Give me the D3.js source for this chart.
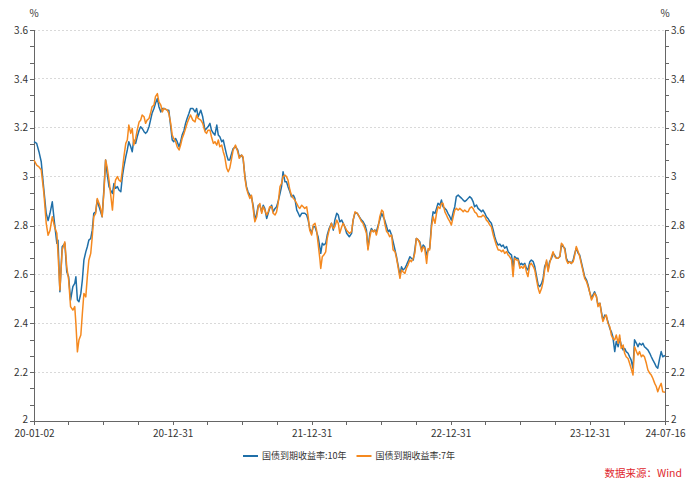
<!DOCTYPE html>
<html>
<head>
<meta charset="utf-8">
<script src="https://cdn.jsdelivr.net/npm/d3@7"></script>
<style>
  body { margin: 0; background: #fff; }
  svg text { font-family: "Noto Sans CJK SC", "Noto Sans", sans-serif; }
  .axis path, .axis line { stroke: #666; shape-rendering: crispEdges; }
  .axis text { fill: #333; font-size: 10px; }
  .grid line { stroke: #d9d9d9; stroke-dasharray: 2,2; shape-rendering: crispEdges; }
</style>
</head>
<body>
<svg id="chart" width="700" height="488"></svg>
<script>
// --- data ---
const dates = [
  "2020-01-02","2020-01-09","2020-01-15","2020-01-21","2020-01-28","2020-02-03","2020-02-08","2020-02-13","2020-02-19","2020-02-25",
  "2020-03-02","2020-03-05","2020-03-10","2020-03-16","2020-03-23","2020-03-28","2020-04-02","2020-04-07","2020-04-13","2020-04-18",
  "2020-04-21","2020-04-25","2020-04-29","2020-05-04","2020-05-08","2020-05-12","2020-05-17","2020-05-21","2020-05-25","2020-05-30",
  "2020-06-03","2020-06-07","2020-06-12","2020-06-16","2020-06-21","2020-06-25","2020-06-29","2020-07-04","2020-07-08","2020-07-12",
  "2020-07-17","2020-07-21","2020-07-26","2020-07-30","2020-08-03","2020-08-08","2020-08-12","2020-08-17","2020-08-21","2020-08-25",
  "2020-08-30","2020-09-03","2020-09-07","2020-09-12","2020-09-16","2020-09-20","2020-09-25","2020-09-29","2020-10-04","2020-10-08",
  "2020-10-12","2020-10-17","2020-10-21","2020-10-25","2020-10-30","2020-11-03","2020-11-07","2020-11-12","2020-11-16","2020-11-21",
  "2020-11-25","2020-11-30","2020-12-04","2020-12-08","2020-12-17","2020-12-21","2020-12-26","2020-12-30",
  "2021-01-03","2021-01-08","2021-01-12","2021-01-17","2021-01-21","2021-01-25","2021-01-30","2021-02-03","2021-02-07","2021-02-12",
  "2021-02-16","2021-02-22","2021-02-28","2021-03-04","2021-03-08","2021-03-15","2021-03-20","2021-03-26","2021-03-30","2021-04-03",
  "2021-04-08","2021-04-12","2021-04-17","2021-04-21","2021-04-26","2021-04-30","2021-05-04","2021-05-09","2021-05-13","2021-05-17",
  "2021-05-22","2021-05-26","2021-05-30","2021-06-04","2021-06-08","2021-06-14","2021-06-20","2021-06-24","2021-06-30","2021-07-04",
  "2021-07-09","2021-07-13","2021-07-17","2021-07-22","2021-07-26","2021-07-31","2021-08-04","2021-08-09","2021-08-13","2021-08-17",
  "2021-08-22","2021-08-26","2021-08-30","2021-09-04","2021-09-08","2021-09-12","2021-09-17","2021-09-21","2021-09-26","2021-09-30",
  "2021-10-04","2021-10-09","2021-10-13","2021-10-17","2021-10-22","2021-10-26","2021-10-30","2021-11-04","2021-11-08","2021-11-13",
  "2021-11-17","2021-11-22","2021-11-26","2021-11-30","2021-12-05","2021-12-09","2021-12-13","2021-12-18","2021-12-22","2021-12-26",
  "2021-12-31",
  "2022-01-04","2022-01-09","2022-01-13","2022-01-17","2022-01-22","2022-01-24","2022-01-28","2022-02-01","2022-02-06","2022-02-10",
  "2022-02-15","2022-02-21","2022-02-26","2022-03-02","2022-03-07","2022-03-11","2022-03-15","2022-03-20","2022-03-24","2022-03-28",
  "2022-04-02","2022-04-09","2022-04-15","2022-04-19","2022-04-24","2022-04-30","2022-05-05","2022-05-11","2022-05-15","2022-05-20",
  "2022-05-24","2022-05-28","2022-06-02","2022-06-06","2022-06-11","2022-06-15","2022-06-19","2022-06-24","2022-06-28","2022-07-03",
  "2022-07-07","2022-07-11","2022-07-16","2022-07-20","2022-07-24","2022-07-29","2022-08-02","2022-08-07","2022-08-11","2022-08-15",
  "2022-08-20","2022-08-24","2022-08-28","2022-09-02","2022-09-06","2022-09-10","2022-09-15","2022-09-19","2022-09-24","2022-09-28",
  "2022-10-02","2022-10-07","2022-10-11","2022-10-16","2022-10-20","2022-10-24","2022-10-29","2022-11-02","2022-11-06","2022-11-11",
  "2022-11-15","2022-11-20","2022-11-24","2022-11-28","2022-12-03","2022-12-07","2022-12-11","2022-12-16","2022-12-20","2022-12-24",
  "2022-12-29",
  "2023-01-02","2023-01-07","2023-01-11","2023-01-15","2023-01-20","2023-01-24","2023-01-29","2023-02-02","2023-02-06","2023-02-11",
  "2023-02-15","2023-02-19","2023-02-24","2023-02-28","2023-03-04","2023-03-09","2023-03-13","2023-03-18","2023-03-22","2023-03-26",
  "2023-03-31","2023-04-04","2023-04-08","2023-04-13","2023-04-17","2023-04-22","2023-04-26","2023-04-30","2023-05-05","2023-05-09",
  "2023-05-14","2023-05-18","2023-05-22","2023-05-27","2023-05-31","2023-06-04","2023-06-09","2023-06-13","2023-06-17","2023-06-22",
  "2023-06-26","2023-07-01","2023-07-05","2023-07-09","2023-07-14","2023-07-18","2023-07-22","2023-07-27","2023-07-31","2023-08-05",
  "2023-08-09","2023-08-13","2023-08-18","2023-08-22","2023-08-27","2023-08-31","2023-09-04","2023-09-09","2023-09-13","2023-09-17",
  "2023-09-22","2023-09-26","2023-09-30","2023-10-05","2023-10-09","2023-10-14","2023-10-18","2023-10-22","2023-10-27","2023-10-31",
  "2023-11-04","2023-11-09","2023-11-13","2023-11-18","2023-11-22","2023-11-26","2023-12-01","2023-12-05","2023-12-09","2023-12-14",
  "2023-12-18","2023-12-23","2023-12-27","2023-12-31",
  "2024-01-05","2024-01-09","2024-01-13","2024-01-18","2024-01-22","2024-01-27","2024-01-31","2024-02-04","2024-02-09","2024-02-13",
  "2024-02-17","2024-02-22","2024-02-26","2024-03-01","2024-03-06","2024-03-10","2024-03-15","2024-03-19","2024-03-23","2024-03-28",
  "2024-04-01","2024-04-05","2024-04-10","2024-04-14","2024-04-18","2024-04-23","2024-04-27","2024-05-02","2024-05-06","2024-05-10",
  "2024-05-15","2024-05-19","2024-05-23","2024-05-28","2024-06-01","2024-06-06","2024-06-10","2024-06-14","2024-06-19","2024-06-23",
  "2024-06-27","2024-07-02","2024-07-06","2024-07-10","2024-07-16"
];

// 国债到期收益率:10年 (%)
const yield10 = [
  3.143,3.136,3.102,3.061,2.945,2.85,2.82,2.85,2.897,2.808,
  2.727,2.74,2.529,2.713,2.727,2.611,2.59,2.495,2.55,2.563,
  2.59,2.495,2.488,2.522,2.577,2.658,2.692,2.713,2.74,2.747,
  2.781,2.85,2.856,2.904,2.877,2.856,2.836,2.959,3.068,3.013,
  2.959,2.945,2.931,2.972,2.952,2.959,2.945,2.938,3.0,3.04,
  3.081,3.109,3.143,3.122,3.102,3.15,3.136,3.163,3.19,3.204,
  3.197,3.184,3.177,3.184,3.204,3.231,3.259,3.279,3.3,3.32,
  3.286,3.265,3.279,3.279,3.272,3.272,3.204,3.15,
  3.143,3.156,3.143,3.122,3.143,3.17,3.19,3.218,3.238,3.259,
  3.279,3.279,3.265,3.279,3.245,3.272,3.245,3.19,3.197,3.204,
  3.218,3.19,3.177,3.17,3.211,3.17,3.163,3.143,3.15,3.122,
  3.088,3.068,3.068,3.095,3.115,3.122,3.109,3.081,3.088,3.075,
  3.0,2.959,2.938,2.924,2.918,2.877,2.822,2.85,2.883,2.883,
  2.856,2.883,2.87,2.829,2.85,2.87,2.883,2.856,2.87,2.877,
  2.897,2.931,2.959,3.02,2.979,2.979,2.959,2.938,2.918,2.924,
  2.911,2.863,2.85,2.836,2.85,2.85,2.85,2.843,2.822,2.788,
  2.768,
  2.795,2.795,2.774,2.754,2.706,2.686,2.727,2.72,2.727,2.761,
  2.788,2.809,2.781,2.822,2.85,2.843,2.815,2.822,2.809,2.795,
  2.768,2.754,2.768,2.822,2.852,2.85,2.836,2.822,2.816,2.802,
  2.781,2.706,2.768,2.788,2.775,2.781,2.775,2.802,2.822,2.85,
  2.836,2.822,2.795,2.775,2.781,2.761,2.734,2.70,2.672,2.638,
  2.597,2.631,2.618,2.625,2.638,2.652,2.672,2.666,2.659,2.70,
  2.747,2.741,2.734,2.70,2.72,2.713,2.679,2.70,2.706,2.809,
  2.856,2.85,2.87,2.891,2.884,2.904,2.877,2.87,2.863,2.85,
  2.836,
  2.822,2.856,2.877,2.918,2.925,2.918,2.911,2.904,2.898,2.904,
  2.911,2.918,2.911,2.898,2.877,2.884,2.87,2.863,2.856,2.863,
  2.85,2.836,2.829,2.816,2.809,2.781,2.754,2.734,2.72,2.724,
  2.714,2.72,2.707,2.714,2.693,2.686,2.679,2.632,2.673,2.666,
  2.666,2.639,2.645,2.639,2.645,2.625,2.618,2.652,2.659,2.652,
  2.632,2.598,2.557,2.55,2.563,2.584,2.632,2.652,2.618,2.652,
  2.666,2.686,2.679,2.666,2.666,2.673,2.72,2.714,2.707,2.666,
  2.652,2.652,2.645,2.659,2.686,2.707,2.686,2.679,2.652,2.618,
  2.591,2.577,2.557,2.529,
  2.502,2.516,2.529,2.509,2.475,2.482,2.447,2.413,2.434,2.427,
  2.407,2.379,2.366,2.345,2.284,2.325,2.304,2.338,2.311,2.291,
  2.297,2.284,2.277,2.263,2.25,2.216,2.332,2.318,2.304,2.318,
  2.311,2.318,2.304,2.297,2.291,2.277,2.263,2.25,2.236,2.222,
  2.216,2.256,2.284,2.263,2.268
];

// 国债到期收益率:7年 (%)
const yield7 = [
  3.068,3.047,3.04,3.027,2.931,2.81,2.76,2.78,2.836,2.795,
  2.768,2.686,2.536,2.70,2.733,2.631,2.577,2.468,2.454,2.468,
  2.399,2.283,2.331,2.352,2.44,2.522,2.508,2.59,2.658,2.686,
  2.754,2.836,2.85,2.91,2.89,2.87,2.836,2.945,3.068,3.04,
  2.986,2.931,2.863,2.945,2.986,3.0,2.986,2.979,3.027,3.081,
  3.136,3.15,3.211,3.177,3.197,3.129,3.156,3.19,3.224,3.231,
  3.252,3.245,3.218,3.231,3.238,3.259,3.286,3.293,3.327,3.34,
  3.306,3.293,3.265,3.279,3.272,3.259,3.218,3.17,
  3.156,3.143,3.122,3.109,3.129,3.156,3.177,3.197,3.218,3.238,
  3.252,3.231,3.224,3.252,3.238,3.231,3.218,3.184,3.177,3.19,
  3.19,3.163,3.136,3.143,3.129,3.15,3.122,3.129,3.102,3.081,
  3.034,3.02,3.034,3.075,3.109,3.129,3.102,3.075,3.088,3.081,
  2.993,2.952,2.931,2.911,2.924,2.863,2.815,2.836,2.877,2.89,
  2.85,2.877,2.863,2.843,2.856,2.877,2.877,2.85,2.843,2.856,
  2.89,2.959,2.972,3.0,3.006,3.0,2.986,2.945,2.924,2.911,
  2.904,2.89,2.877,2.87,2.883,2.877,2.87,2.877,2.836,2.781,
  2.761,
  2.802,2.809,2.781,2.727,2.658,2.624,2.672,2.679,2.692,2.747,
  2.781,2.809,2.788,2.795,2.822,2.809,2.768,2.795,2.809,2.795,
  2.781,2.768,2.775,2.822,2.856,2.85,2.836,2.816,2.809,2.788,
  2.768,2.70,2.754,2.781,2.775,2.781,2.761,2.795,2.836,2.863,
  2.856,2.809,2.775,2.768,2.754,2.761,2.70,2.693,2.666,2.631,
  2.584,2.618,2.611,2.604,2.625,2.638,2.659,2.652,2.666,2.686,
  2.747,2.741,2.727,2.693,2.713,2.706,2.645,2.706,2.70,2.795,
  2.836,2.809,2.85,2.877,2.87,2.891,2.891,2.856,2.843,2.829,
  2.816,
  2.802,2.836,2.863,2.87,2.863,2.87,2.863,2.856,2.863,2.856,
  2.856,2.87,2.877,2.87,2.856,2.85,2.836,2.836,2.836,2.843,
  2.836,2.822,2.816,2.802,2.795,2.761,2.741,2.72,2.70,2.70,
  2.693,2.70,2.686,2.693,2.679,2.673,2.659,2.591,2.666,2.659,
  2.659,2.625,2.632,2.625,2.639,2.611,2.591,2.639,2.645,2.632,
  2.618,2.584,2.543,2.523,2.543,2.57,2.618,2.659,2.611,2.645,
  2.673,2.693,2.673,2.666,2.666,2.673,2.727,2.72,2.70,2.659,
  2.645,2.652,2.645,2.652,2.679,2.714,2.693,2.673,2.645,2.611,
  2.584,2.57,2.55,2.529,
  2.495,2.509,2.523,2.509,2.468,2.482,2.441,2.407,2.427,2.434,
  2.40,2.386,2.352,2.338,2.332,2.352,2.318,2.352,2.297,2.311,
  2.277,2.263,2.256,2.236,2.216,2.188,2.304,2.284,2.27,2.284,
  2.263,2.27,2.263,2.236,2.209,2.195,2.188,2.175,2.154,2.141,
  2.12,2.141,2.154,2.12,2.118
];

const seriesNames = ["国债到期收益率:10年", "国债到期收益率:7年"];
const seriesColors = ["#1f6fa8", "#f5891f"];
const yTicks = [2, 2.2, 2.4, 2.6, 2.8, 3, 3.2, 3.4, 3.6];
const xTickDates = ["2020-01-02", "2020-12-31", "2021-12-31", "2022-12-31", "2023-12-31", "2024-07-16"];
const xMinorDates = [
  "2020-03-31", "2020-06-30", "2020-09-30",
  "2021-03-31", "2021-06-30", "2021-09-30",
  "2022-03-31", "2022-06-30", "2022-09-30",
  "2023-03-31", "2023-06-30", "2023-09-30",
  "2024-03-31"
];
const unitLabel = "%";
const sourceText = "数据来源：Wind";

// --- chart ---
const parseDate = d3.utcParse("%Y-%m-%d");
const svg = d3.select("#chart");
const margin = {top: 30, right: 35, bottom: 67, left: 34};
const width = 700 - margin.left - margin.right;
const height = 488 - margin.top - margin.bottom;
const g = svg.append("g").attr("transform", `translate(${margin.left},${margin.top})`);

const x = d3.scaleUtc()
    .domain([parseDate(xTickDates[0]), parseDate(xTickDates[xTickDates.length - 1])])
    .range([0, width]);
const y = d3.scaleLinear().domain([2, 3.6]).range([height, 0]);

// gridlines
g.append("g").attr("class", "grid")
  .selectAll("line")
  .data(yTicks.filter(v => v > 2))
  .join("line")
    .attr("x1", 0).attr("x2", width)
    .attr("y1", d => y(d)).attr("y2", d => y(d));

// minor y ticks: two between each labelled tick
const yMinor = d3.range(0, 25).map(i => 2 + i * 0.2 / 3);

g.append("g").attr("class", "axis")
  .call(d3.axisLeft(y).tickValues(yMinor).tickSize(4).tickFormat(""))
  .call(a => a.select(".domain").remove());
g.append("g").attr("class", "axis")
  .call(d3.axisLeft(y).tickValues(yTicks).tickSize(4).tickPadding(2).tickFormat(d => String(d)));

g.append("g").attr("class", "axis").attr("transform", `translate(${width},0)`)
  .call(d3.axisRight(y).tickValues(yMinor).tickSize(4).tickFormat(""))
  .call(a => a.select(".domain").remove());
g.append("g").attr("class", "axis").attr("transform", `translate(${width},0)`)
  .call(d3.axisRight(y).tickValues(yTicks).tickSize(4).tickPadding(2).tickFormat(d => String(d)));

// lowest y label sits just above the date labels; lift it a touch
g.selectAll(".axis .tick text").filter(d => d === 2).attr("dy", "0.1em");

// x axis
g.append("g").attr("class", "axis").attr("transform", `translate(0,${height})`)
  .call(d3.axisBottom(x).tickValues(xMinorDates.map(parseDate)).tickSize(4).tickFormat(""))
  .call(a => a.select(".domain").remove());
g.append("g").attr("class", "axis").attr("transform", `translate(0,${height})`)
  .call(d3.axisBottom(x).tickValues(xTickDates.map(parseDate)).tickSize(4).tickPadding(5)
    .tickFormat(d3.utcFormat("%y-%m-%d")));

// unit labels
[0, width].forEach(px => {
  g.append("text")
    .attr("x", px).attr("y", -13)
    .attr("text-anchor", "middle")
    .attr("fill", "#333").attr("font-size", 10)
    .text(unitLabel);
});

// lines
const series = [yield10, yield7].map((vals, i) => ({
  name: seriesNames[i],
  color: seriesColors[i],
  values: dates.map((d, j) => ({date: parseDate(d), value: vals[j]}))
}));

const line = d3.line().x(d => x(d.date)).y(d => y(d.value));

g.selectAll(".series")
  .data(series)
  .join("path")
    .attr("class", "series")
    .attr("fill", "none")
    .attr("stroke", d => d.color)
    .attr("stroke-width", 1.5)
    .attr("stroke-linejoin", "round")
    .attr("d", d => line(d.values));

// legend
const legend = svg.append("g").attr("transform", "translate(0,456)");
let cursor = 0;
const items = legend.selectAll("g")
  .data(series)
  .join("g");
items.append("line")
  .attr("x1", 0).attr("x2", 15)
  .attr("stroke", d => d.color).attr("stroke-width", 2);
items.append("text")
  .attr("x", 19).attr("dy", "0.35em")
  .attr("fill", "#333").attr("font-size", 9)
  .text(d => d.name);
items.each(function() {
  const w = this.getBBox().width;
  d3.select(this).attr("transform", `translate(${cursor},0)`);
  cursor += w + 10;
});
const total = cursor - 10;
legend.attr("transform", `translate(${349 - total / 2},456)`);

// source note
svg.append("text")
  .attr("x", 682).attr("y", 477)
  .attr("text-anchor", "end")
  .attr("fill", "#e0282e").attr("font-size", 10.5)
  .text(sourceText);
</script>
</body>
</html>
